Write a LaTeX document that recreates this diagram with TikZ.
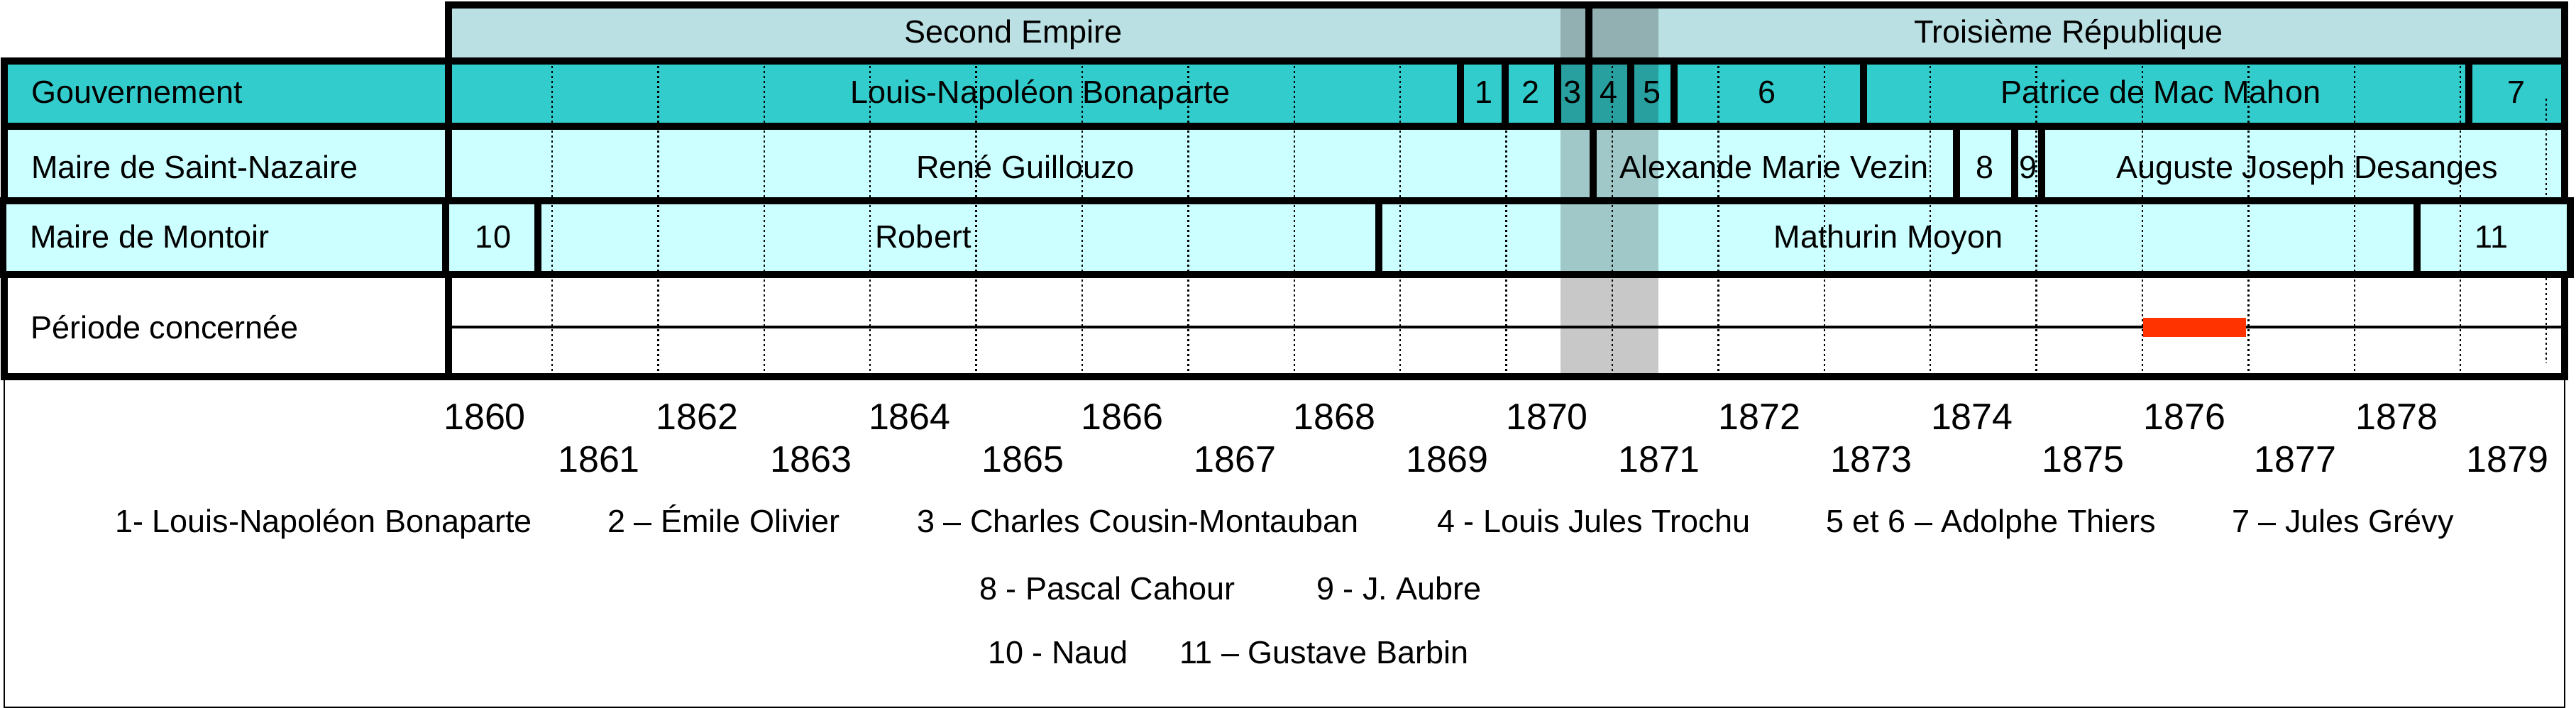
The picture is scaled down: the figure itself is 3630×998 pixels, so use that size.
\documentclass[tikz,border=0pt]{standalone}
\usepackage{fontspec}
\setmainfont{Liberation Sans}
\definecolor{erafill}{RGB}{187,224,227}
\definecolor{govfill}{RGB}{51,204,204}
\definecolor{mayorfill}{RGB}{204,255,255}
\definecolor{redbar}{RGB}{255,51,0}
\begin{document}
\begin{tikzpicture}[x=1pt,y=-1pt,
  frame/.style={line width=10pt, draw=black, line join=miter},
  lbl/.style={inner sep=0pt, anchor=base, font=\fontsize{45}{54}\selectfont},
  lbll/.style={lbl, anchor=base west},
  yr/.style={inner sep=0pt, anchor=base west, font=\fontsize{52}{60}\selectfont},
  gridline/.style={line width=2.5pt, dash pattern=on 2.5pt off 4.5pt},
]
\useasboundingbox (0,0) rectangle (3630,998);
% outer thin frame
\draw[line width=2pt] (6,531) rectangle (3614,996.5);
% fills
\fill[erafill] (632,7) rectangle (3614,86);
\fill[govfill] (6,86) rectangle (3614,177.5);
\fill[mayorfill] (6,177.5) rectangle (3614,282.5);
\fill[mayorfill] (4,282.5) rectangle (3622,387);
\fill[white] (6,387) rectangle (3614,531);
% grey band
\fill[black, opacity=0.215] (2199,7) rectangle (2337,531);
% dotted year lines
\foreach \k in {1,...,19}
  \draw[gridline] ({628.6+149.4*\k},86) -- ({628.6+149.4*\k},531);
\draw[gridline] (3588,139) -- (3588,282);
\draw[gridline] (3588,392) -- (3588,512);
% period line and bar
\draw[line width=4pt] (632,461) -- (3614,461);
\fill[redbar] (3020,448) rectangle (3165,475);
% borders
\draw[frame] (632,7) rectangle (3614,86);
\draw[frame] (2239,7) -- (2239,86);
\draw[frame] (6,86) rectangle (3614,177.5);
\draw[frame] (632,86) -- (632,177.5);
\foreach \x in {2058,2121,2194.5,2239,2297.5,2359,2626,3478.5}
  \draw[frame] (\x,86) -- (\x,177.5);
\draw[frame] (6,177.5) rectangle (3614,282.5);
\draw[frame] (632,177.5) -- (632,282.5);
\foreach \x in {2245,2757,2839,2877}
  \draw[frame] (\x,177.5) -- (\x,282.5);
\draw[frame] (4,282.5) rectangle (3622,387);
\draw[frame] (628,282.5) -- (628,387);
\foreach \x in {757.5,1942.5,3405.5}
  \draw[frame] (\x,282.5) -- (\x,387);
\draw[frame] (6,387) rectangle (3614,531);
\draw[frame] (632,387) -- (632,531);
% era labels
\node[lbl] (se) at (1428,61) {Second Empire};
\node[lbl] (tr) at (2915,61) {Troisième République};
% row labels
\node[lbll] (lgov) at (44,145) {Gouvernement};
\node[lbll] (lsn) at (44,251) {Maire de Saint-Nazaire};
\node[lbll] (lmo) at (42,349) {Maire de Montoir};
\node[lbll] (lpe) at (43,477) {Période concernée};
% gouvernement
\node[lbl] (g0) at (1466,145) {Louis-Napoléon Bonaparte};
\node[lbl] (g1) at (2091,145) {1};
\node[lbl] (g2) at (2157,145) {2};
\node[lbl] (g3) at (2216,145) {3};
\node[lbl] (g4) at (2267,145) {4};
\node[lbl] (g5) at (2328,145) {5};
\node[lbl] (g6) at (2490,145) {6};
\node[lbl] (gmm) at (3045,145) {Patrice de Mac Mahon};
\node[lbl] (g7) at (3546,145) {7};
% saint-nazaire
\node[lbl] (s0) at (1445,251) {René Guillouzo};
\node[lbl] (s1) at (2500,251) {Alexande Marie Vezin};
\node[lbl] (s8) at (2797,251) {8};
\node[lbl] (s9) at (2858,251) {9};
\node[lbl] (s2) at (3251,251) {Auguste Joseph Desanges};
% montoir
\node[lbl] (m10) at (695,349) {10};
\node[lbl] (m0) at (1301,349) {Robert};
\node[lbl] (m1) at (2661,349) {Mathurin Moyon};
\node[lbl] (m11) at (3511,349) {11};
% years
\foreach \i in {0,...,9}{
  \pgfmathtruncatemacro{\ye}{1860+2*\i}
  \pgfmathtruncatemacro{\yo}{1861+2*\i}
  \node[yr] (ye\i) at ({625+299.4*\i},605) {\ye};
  \node[yr] (yo\i) at ({786+298.8*\i},665) {\yo};
}
% legend
\node[lbll] (k1) at (162,750) {1- Louis-Napoléon Bonaparte};
\node[lbll] (k2) at (856,750) {2 – Émile Olivier};
\node[lbll] (k3) at (1292,750) {3 – Charles Cousin-Montauban};
\node[lbll] (k4) at (2025,750) {4 - Louis Jules Trochu};
\node[lbll] (k5) at (2573,750) {5 et 6 – Adolphe Thiers};
\node[lbll] (k7) at (3145,750) {7 – Jules Grévy};
\node[lbll] (k8) at (1380,845) {8 - Pascal Cahour};
\node[lbll] (k9) at (1855,845) {9 - J. Aubre};
\node[lbll] (k10) at (1392,935) {10 - Naud};
\node[lbll] (k11) at (1662,935) {11 – Gustave Barbin};
\end{tikzpicture}
\end{document}
